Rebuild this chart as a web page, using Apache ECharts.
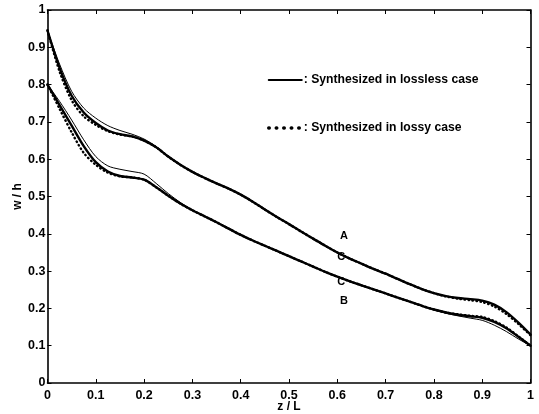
<!DOCTYPE html>
<html>
<head>
<meta charset="utf-8">
<script src="https://cdn.jsdelivr.net/npm/echarts@6/dist/echarts.min.js"></script>
<style>
  html, body { margin: 0; padding: 0; background: #fff; }
  #chart { width: 539px; height: 414px; }
</style>
</head>
<body>
<div id="chart"></div>
<script>
// z / L positions, every 0.025
let zs = []
for (let i = 0; i <= 40; i++) zs.push(i / 40)

// curve A (upper)
let aLossless = [0.945, 0.845, 0.77, 0.725, 0.697, 0.677, 0.667, 0.661, 0.65, 0.632,
                 0.607, 0.585, 0.566, 0.55, 0.535, 0.521, 0.505, 0.486, 0.465, 0.445,
                 0.426, 0.406, 0.387, 0.368, 0.35, 0.334, 0.32, 0.306, 0.293, 0.279,
                 0.265, 0.252, 0.241, 0.233, 0.228, 0.225, 0.221, 0.21, 0.19, 0.162, 0.13]
let aThin     = [0.945, 0.855, 0.782, 0.737, 0.71, 0.69, 0.677, 0.667, 0.654, 0.634,
                 0.608, 0.585, 0.566, 0.55, 0.535, 0.521, 0.505, 0.486, 0.465, 0.445,
                 0.426, 0.406, 0.387, 0.368, 0.35, 0.334, 0.32, 0.306, 0.293, 0.279,
                 0.265, 0.252, 0.241, 0.233, 0.228, 0.225, 0.221, 0.21, 0.19, 0.162, 0.13]
let aLossy    = [0.945, 0.835, 0.758, 0.715, 0.692, 0.675, 0.666, 0.661, 0.65, 0.632,
                 0.607, 0.585, 0.566, 0.55, 0.535, 0.521, 0.505, 0.486, 0.465, 0.445,
                 0.426, 0.406, 0.387, 0.368, 0.35, 0.334, 0.32, 0.306, 0.293, 0.279,
                 0.265, 0.252, 0.241, 0.232, 0.226, 0.222, 0.217, 0.205, 0.185, 0.158, 0.128]

// curve B (lower)
let bLossless = [0.8, 0.745, 0.69, 0.635, 0.592, 0.567, 0.555, 0.551, 0.545, 0.525,
                 0.502, 0.481, 0.463, 0.447, 0.431, 0.414, 0.397, 0.382, 0.368, 0.354,
                 0.34, 0.326, 0.312, 0.298, 0.285, 0.273, 0.262, 0.251, 0.24, 0.229,
                 0.218, 0.207, 0.197, 0.189, 0.183, 0.179, 0.175, 0.164, 0.147, 0.124, 0.1]
let bThin     = [0.8, 0.755, 0.705, 0.652, 0.607, 0.582, 0.573, 0.567, 0.56, 0.535,
                 0.508, 0.484, 0.464, 0.447, 0.431, 0.414, 0.397, 0.382, 0.368, 0.354,
                 0.34, 0.326, 0.312, 0.298, 0.285, 0.273, 0.262, 0.251, 0.24, 0.229,
                 0.218, 0.207, 0.197, 0.187, 0.18, 0.174, 0.168, 0.155, 0.138, 0.118, 0.1]
let bLossy    = [0.8, 0.735, 0.672, 0.617, 0.585, 0.564, 0.554, 0.551, 0.545, 0.525,
                 0.502, 0.481, 0.463, 0.447, 0.431, 0.414, 0.397, 0.382, 0.368, 0.354,
                 0.34, 0.326, 0.312, 0.298, 0.285, 0.273, 0.262, 0.251, 0.24, 0.229,
                 0.218, 0.207, 0.197, 0.189, 0.184, 0.18, 0.177, 0.166, 0.149, 0.125, 0.1]

// annotations
let noteX = [0.614, 0.614, 0.608, 0.608]
let noteY = [0.394, 0.22, 0.338, 0.272]
let noteText = ['A', 'B', 'C', 'C']

function pairs(ys) {
    let out = []
    for (let i = 0; i < zs.length; i++) {
        out.push([zs[i], ys[i]])
    }
    return out
}

let font = 'Liberation Sans, Arial, sans-serif'
let nameLossless = 'Synthesized in lossless case'
let nameLossy = 'Synthesized in lossy case'

function lineSeries(name, ys, width, type) {
    return {
        name: name,
        type: 'line',
        data: pairs(ys),
        smooth: 0.3,
        showSymbol: false,
        symbol: 'none',
        silent: true,
        itemStyle: { color: '#000' },
        lineStyle: { color: '#000', width: width, type: type, cap: 'round' },
        z: 3
    }
}

let noteData = []
for (let i = 0; i < noteX.length; i++) {
    noteData.push({ value: [noteX[i], noteY[i]], label: { formatter: noteText[i] } })
}

let chart = echarts.init(document.getElementById('chart'), null, { renderer: 'canvas' })

let axisCommon = {
    type: 'value',
    min: 0,
    max: 1,
    interval: 0.1,
    splitLine: { show: false },
    axisLine: { show: true, onZero: false, lineStyle: { color: '#000', width: 1.6 } },
    axisTick: { show: true, inside: true, length: 4, lineStyle: { color: '#000', width: 1 } },
    axisLabel: { color: '#000', fontFamily: font, fontWeight: 'bold', fontSize: 12.5 }
}

const option = {
    animation: false,
    backgroundColor: '#fff',
    grid: { left: 47.5, right: 8.5, top: 10, bottom: 31, containLabel: false, outerBoundsMode: 'none' },
    legend: {
        orient: 'vertical',
        left: 262,
        top: 69,
        itemGap: 36,
        itemWidth: 33,
        itemHeight: 10,
        formatter: function (n) { return ': ' + n },
        textStyle: { color: '#000', fontFamily: font, fontWeight: 'bold', fontSize: 12.2, padding: [0, 0, 0, -3] },
        data: [
            { name: nameLossless, itemStyle: { color: 'transparent', borderWidth: 0 },
              lineStyle: { color: '#000', width: 2, type: 'solid' } },
            { name: nameLossy, itemStyle: { color: 'transparent', borderWidth: 0 },
              lineStyle: { color: '#000', width: 3.5, type: [0.5, 7], cap: 'round' } }
        ]
    },
    xAxis: [
        Object.assign({}, axisCommon, {
            position: 'bottom',
            name: 'z / L',
            nameLocation: 'middle',
            nameGap: 18,
            nameMoveOverlap: false,
            nameTextStyle: { color: '#000', fontFamily: font, fontWeight: 'bold', fontSize: 12 },
            axisLabel: Object.assign({}, axisCommon.axisLabel, { margin: 6 })
        }),
        Object.assign({}, axisCommon, {
            position: 'top',
            axisLabel: { show: false }
        })
    ],
    yAxis: [
        Object.assign({}, axisCommon, {
            position: 'left',
            name: 'w / h',
            nameLocation: 'middle',
            nameGap: 24,
            nameMoveOverlap: false,
            nameTextStyle: { color: '#000', fontFamily: font, fontWeight: 'bold', fontSize: 12 },
            axisLabel: Object.assign({}, axisCommon.axisLabel, { margin: 2 })
        }),
        Object.assign({}, axisCommon, {
            position: 'right',
            axisLabel: { show: false }
        })
    ],
    series: [
        lineSeries('thinA', aThin, 1, 'solid'),
        lineSeries('thinB', bThin, 1, 'solid'),
        lineSeries(nameLossless, aLossless, 2.4, 'solid'),
        lineSeries(nameLossless, bLossless, 2.4, 'solid'),
        lineSeries(nameLossy, aLossy, 2.4, [0.5, 3.5]),
        lineSeries(nameLossy, bLossy, 2.4, [0.5, 3.5]),
        {
            name: 'notes',
            type: 'scatter',
            symbolSize: 0,
            silent: true,
            data: noteData,
            itemStyle: { opacity: 1 },
            label: {
                show: true,
                position: 'inside',
                color: '#000',
                fontFamily: font,
                fontWeight: 'bold',
                fontSize: 11
            },
            z: 5
        }
    ]
}

chart.setOption(option)
</script>
</body>
</html>
